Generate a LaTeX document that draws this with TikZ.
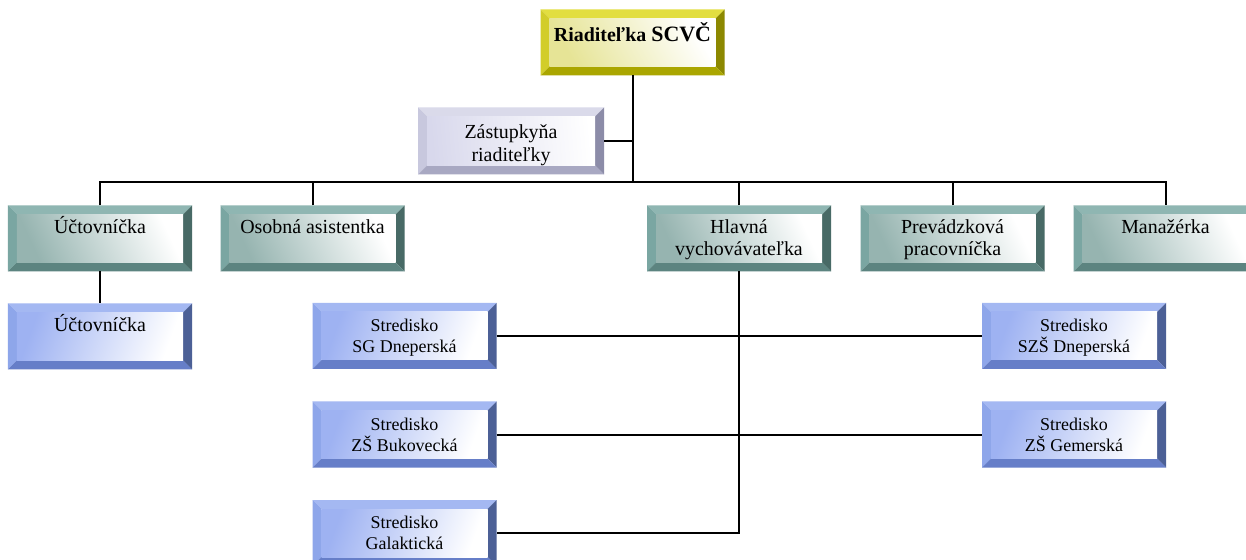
\documentclass[tikz,border=0pt]{standalone}
\usepackage{fontspec}
\setmainfont{Liberation Serif}
\usetikzlibrary{calc}
\definecolor{tT}{RGB}{143,182,178}
\definecolor{tL}{RGB}{122,166,162}
\definecolor{tR}{RGB}{72,106,102}
\definecolor{tB}{RGB}{92,132,128}
\definecolor{tF}{RGB}{150,180,176}
\definecolor{bT}{RGB}{164,184,242}
\definecolor{bL}{RGB}{142,166,234}
\definecolor{bR}{RGB}{76,96,150}
\definecolor{bB}{RGB}{102,126,200}
\definecolor{bF}{RGB}{158,178,242}
\definecolor{yT}{RGB}{226,222,64}
\definecolor{yL}{RGB}{210,205,42}
\definecolor{yR}{RGB}{140,136,0}
\definecolor{yB}{RGB}{170,166,0}
\definecolor{yF}{RGB}{230,228,150}
\definecolor{lT}{RGB}{218,218,234}
\definecolor{lL}{RGB}{200,200,222}
\definecolor{lR}{RGB}{140,140,168}
\definecolor{lB}{RGB}{168,168,194}
\definecolor{lF}{RGB}{216,216,236}
% box text: first baseline offset, line spacing, line 1, line 2
\newcommand\btx[4]{\vbox to 66bp{\offinterlineskip\hsize=178bp
  \vskip #1\hbox to\hsize{\hss\smash{#3}\hss}%
  \vskip #2\hbox to\hsize{\hss\smash{#4}\hss}\vfill}}
\tikzset{
  bevel/.style n args={6}{rectangle, inner sep=0pt, outer sep=0pt,
    minimum width=184bp, minimum height=66bp,
    path picture={
      \coordinate (pa) at (path picture bounding box.north west);
      \coordinate (pb) at (path picture bounding box.north east);
      \coordinate (pc) at (path picture bounding box.south east);
      \coordinate (pd) at (path picture bounding box.south west);
      \coordinate (qa) at ($(pa)+(9bp,-9bp)$);
      \coordinate (qb) at ($(pb)+(-9bp,-9bp)$);
      \coordinate (qc) at ($(pc)+(-9bp,9bp)$);
      \coordinate (qd) at ($(pd)+(9bp,9bp)$);
      \fill[#1] (pa)--(pb)--(qb)--(qa)--cycle;
      \fill[#2] (pa)--(qa)--(qd)--(pd)--cycle;
      \fill[#3] (pb)--(pc)--(qc)--(qb)--cycle;
      \fill[#4] (pd)--(qd)--(qc)--(pc)--cycle;
      \shade[left color=#5, middle color=#5!20!white, right color=white, shading angle=#6] (qa) rectangle (qc);
    }},
  tealbox/.style={bevel={tT}{tL}{tR}{tB}{tF}{115}, font=\fontsize{20}{22}\selectfont},
  bluebox/.style={bevel={bT}{bL}{bR}{bB}{bF}{70}, font=\fontsize{18}{20}\selectfont},
  yellowbox/.style={bevel={yT}{yL}{yR}{yB}{yF}{120}, minimum height=65bp},
  lavbox/.style={bevel={lT}{lL}{lR}{lB}{lF}{95}, minimum width=186bp, minimum height=67bp,
    font=\fontsize{20}{22}\selectfont},
  conn/.style={draw=black, line width=2bp}
}
\begin{document}
\begin{tikzpicture}[x=1bp, y=-1bp]
\useasboundingbox (0,0) rectangle (1246,560);
\clip (0,0) rectangle (1246,560);
\fill[white] (0,0) rectangle (1246,560);
% nodes
\node[yellowbox] (dir) at (632.5,42.5)
  {\btx{32bp}{0bp}{\bfseries\fontsize{20}{22}\selectfont Riaditeľka {\fontsize{22}{22}\selectfont SCVČ}}{}};
\node[lavbox] (zast) at (511,141) {\btx{31bp}{23bp}{Zástupkyňa}{riaditeľky}};
\node[tealbox] (uct) at (100,238.5) {\btx{28bp}{22bp}{Účtovníčka}{}};
\node[tealbox] (oso) at (312.5,238.5) {\btx{28bp}{22bp}{Osobná asistentka}{}};
\node[tealbox] (hlv) at (739,238.5) {\btx{28bp}{22bp}{Hlavná}{vychovávateľka}};
\node[tealbox] (pre) at (952.5,238.5) {\btx{28bp}{22bp}{Prevádzková}{pracovníčka}};
\node[tealbox] (man) at (1165.5,238.5) {\btx{28bp}{22bp}{Manažérka}{}};
\node[bluebox, font=\fontsize{20}{22}\selectfont] (uct2) at (100,336.5) {\btx{28bp}{22bp}{Účtovníčka}{}};
\node[bluebox] (sg) at (404.5,336) {\btx{29bp}{21bp}{Stredisko}{SG Dneperská}};
\node[bluebox] (zb) at (404.5,434.5) {\btx{29bp}{21bp}{Stredisko}{ZŠ Bukovecká}};
\node[bluebox] (gal) at (404.5,533) {\btx{28bp}{21bp}{Stredisko}{Galaktická}};
\node[bluebox] (szs) at (1074,336) {\btx{29bp}{21bp}{Stredisko}{SZŠ Dneperská}};
\node[bluebox] (zg) at (1074,434.5) {\btx{29bp}{21bp}{Stredisko}{ZŠ Gemerská}};
% connectors
\coordinate (hub) at (632.5,182);
\draw[conn] (dir.south) -- (hub);
\draw[conn] (zast.east) -- (zast.east -| hub);
\draw[conn] (uct.north) -- (uct.north |- hub) -- (man.north |- hub) -- (man.north);
\draw[conn] (oso.north) -- (oso.north |- hub);
\draw[conn] (hlv.north) -- (hlv.north |- hub);
\draw[conn] (pre.north) -- (pre.north |- hub);
\draw[conn] (uct.south) -- (uct2.north);
\draw[conn] (hlv.south) -- (hlv.south |- gal.east) -- (gal.east);
\draw[conn] (sg.east) -- (szs.west);
\draw[conn] (zb.east) -- (zg.west);
\end{tikzpicture}
\end{document}
